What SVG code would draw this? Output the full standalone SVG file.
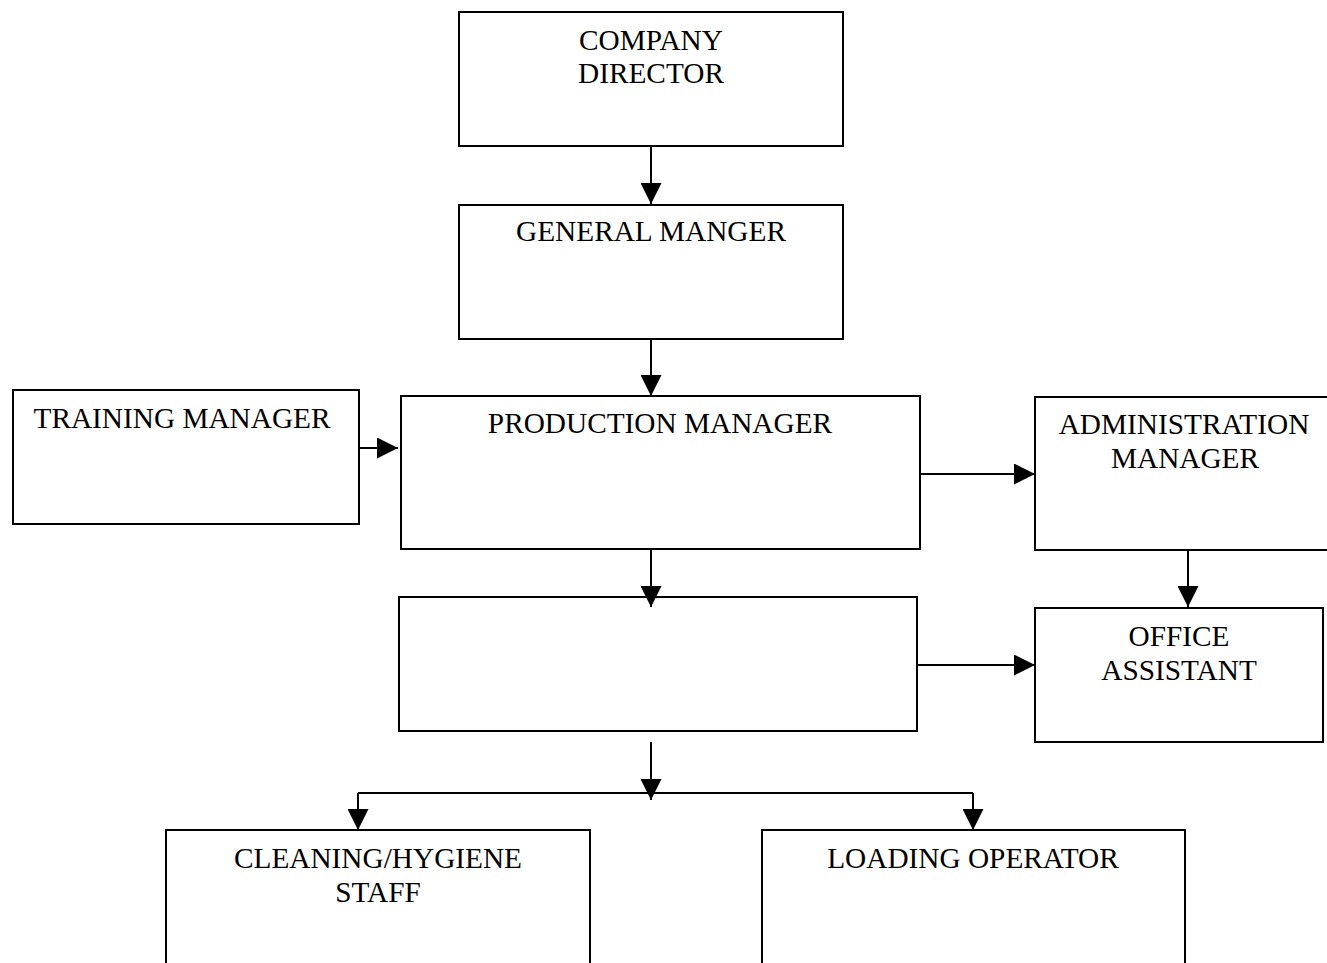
<svg xmlns="http://www.w3.org/2000/svg" width="1327" height="963" viewBox="0 0 1327 963">
  <style>
    .box { fill: #fff; stroke: #000; stroke-width: 2; }
    .lbl { font-family: "Liberation Serif", "Times New Roman", serif; font-size: 29.3px; fill: #000; text-anchor: middle; }
    .wire { fill: none; stroke: #000; stroke-width: 2; }
  </style>
  <defs>
    <marker id="head" markerUnits="userSpaceOnUse" markerWidth="21" markerHeight="21" refX="21" refY="10.5" orient="auto">
      <path d="M0,0 L21,10.5 L0,21 Z" fill="#000"/>
    </marker>
  </defs>
  <rect width="1327" height="963" fill="#fff"/>

  <g id="company-director">
    <rect class="box" x="459" y="12" width="384" height="134"/>
    <text class="lbl" x="651" y="50">COMPANY</text>
    <text class="lbl" x="651" y="83">DIRECTOR</text>
  </g>

  <g id="general-manager">
    <rect class="box" x="459" y="205" width="384" height="134"/>
    <text class="lbl" x="651" y="241">GENERAL MANGER</text>
  </g>

  <g id="training-manager">
    <rect class="box" x="13" y="390" width="346" height="134"/>
    <text class="lbl" x="182" y="428">TRAINING MANAGER</text>
  </g>

  <g id="production-manager">
    <rect class="box" x="401" y="396" width="519" height="153"/>
    <text class="lbl" x="660" y="433">PRODUCTION MANAGER</text>
  </g>

  <g id="administration-manager">
    <rect class="box" x="1035" y="397" width="293" height="153"/>
    <text class="lbl" x="1184" y="434">ADMINISTRATION</text>
    <text class="lbl" x="1185" y="468">MANAGER</text>
  </g>

  <g id="blank-unit">
    <rect class="box" x="399" y="597" width="518" height="134"/>
  </g>

  <g id="office-assistant">
    <rect class="box" x="1035" y="608" width="288" height="134"/>
    <text class="lbl" x="1179" y="646">OFFICE</text>
    <text class="lbl" x="1179" y="680">ASSISTANT</text>
  </g>

  <g id="cleaning-staff">
    <rect class="box" x="166" y="830" width="424" height="150"/>
    <text class="lbl" x="378" y="868">CLEANING/HYGIENE</text>
    <text class="lbl" x="378" y="902">STAFF</text>
  </g>

  <g id="loading-operator">
    <rect class="box" x="762" y="830" width="423" height="150"/>
    <text class="lbl" x="973" y="868">LOADING OPERATOR</text>
  </g>

  <g id="connectors">
    <path class="wire" d="M651,147 L651,204" marker-end="url(#head)"/>
    <path class="wire" d="M651,339 L651,396" marker-end="url(#head)"/>
    <path class="wire" d="M359,448 L398,448" marker-end="url(#head)"/>
    <path class="wire" d="M920,474 L1035,474" marker-end="url(#head)"/>
    <path class="wire" d="M1188,550 L1188,607" marker-end="url(#head)"/>
    <path class="wire" d="M651,550 L651,607" marker-end="url(#head)"/>
    <path class="wire" d="M917,665 L1035,665" marker-end="url(#head)"/>
    <path class="wire" d="M651,742 L651,800" marker-end="url(#head)"/>
    <path class="wire" d="M358,793 L973,793"/>
    <path class="wire" d="M358,793 L358,830" marker-end="url(#head)"/>
    <path class="wire" d="M973,793 L973,830" marker-end="url(#head)"/>
  </g>
</svg>
